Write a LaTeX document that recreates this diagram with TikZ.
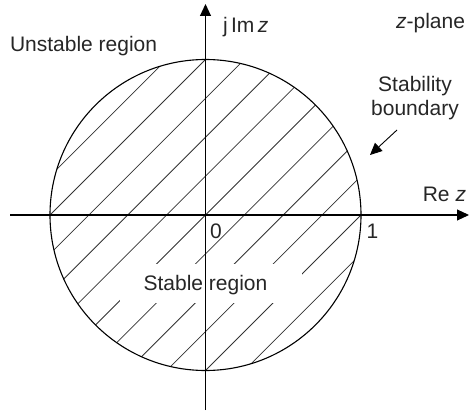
\documentclass[tikz,border=0pt]{standalone}
\usepackage{fontspec}
\setmainfont{Liberation Sans}
\usetikzlibrary{arrows.meta}
\begin{document}
\begin{tikzpicture}[x=1pt,y=-1pt,
  every node/.style={inner sep=0pt, outer sep=0pt, text=black!85},
  lbl/.style={font=\fontsize{21}{24}\selectfont},
  axis/.style={line width=1.1pt, -{Triangle[width=11pt,length=12pt]}},
  hatch/.style={line width=0.75pt, black!80},
  bound/.style={draw, line width=1.1pt, circle, minimum size=311pt}]
\useasboundingbox (0,0) rectangle (469,412);
\coordinate (O) at (205.5,215);
% hatching
\begin{scope}
  \clip (O) circle[radius=155.5];
  \foreach \k in {-5,...,5}
    \draw[hatch] ({205.5+\k*38.875-300},515) -- ({205.5+\k*38.875+300},-85);
  \fill[white] (120,264) rectangle (302,303);
\end{scope}
% boundary circle
\node[bound] (circ) at (O) {};
% axes
\coordinate (xl) at (10,215);
\coordinate (xr) at (469,215);
\coordinate (yb) at (205.5,410);
\coordinate (yt) at (205.5,4);
\draw[axis] (xl) -- (xr);
\draw[axis] (yb) -- (yt);
% labels
\node[lbl, anchor=base west] (unst) at (10,51.5) {Unstable region};
\node[lbl, anchor=base west] (jim) at (223,33) {j\,Im\,\textit{z}};
\node[lbl, anchor=base east] (zpl) at (465,28.5) {\textit{z}-plane};
\node[lbl, anchor=base] (stab1) at (415,91.5) {Stability};
\node[lbl, anchor=base] (stab2) at (415,116) {boundary};
\node[lbl, anchor=base east] (rez) at (466,201.5) {Re \textit{z}};
\node[lbl, anchor=base west] (zero) at (210,238) {0};
\node[lbl, anchor=base west] (one) at (366.5,238) {1};
\node[lbl, anchor=base] (stable) at (205.5,290) {Stable region};
% arrow to boundary
\coordinate (as) at (397,130);
\coordinate (ae) at (370,155);
\draw[line width=0.9pt, -{Triangle[width=11pt,length=12pt]}] (as) -- (ae);
\end{tikzpicture}
\end{document}
